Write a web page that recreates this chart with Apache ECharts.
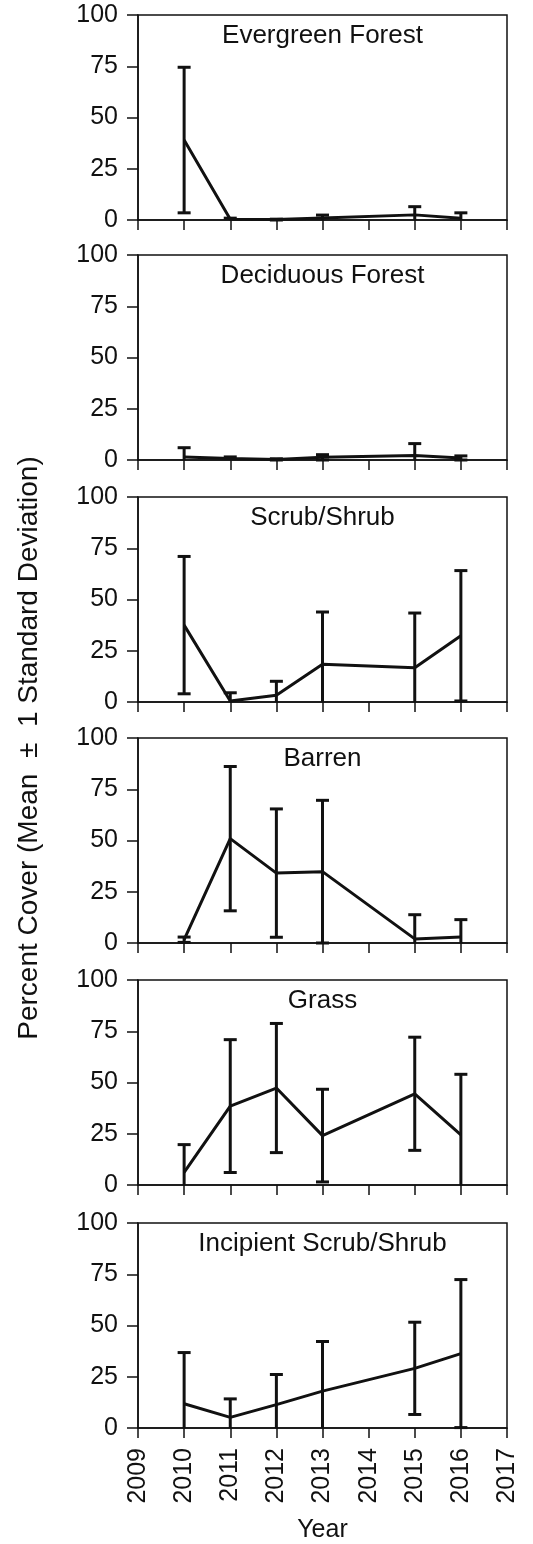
<!DOCTYPE html>
<html>
<head>
<meta charset="utf-8">
<script src="https://cdn.jsdelivr.net/npm/echarts@6/dist/echarts.min.js"></script>
<style>
  html, body { margin: 0; padding: 0; background: #fff; }
  #chart { width: 533px; height: 1544px; }
</style>
</head>
<body>
<div id="chart"></div>
<script>
// survey years (2014 was not sampled)
const years = [2010, 2011, 2012, 2013, 2015, 2016]
const xTicks = [2009, 2017]
const yTicks = [0, 100, 25]

const panelNames = ['Evergreen Forest', 'Deciduous Forest', 'Scrub/Shrub', 'Barren', 'Grass', 'Incipient Scrub/Shrub']

// mean percent cover and 1 standard deviation, per panel
const evergreenMean = [39.0, 0.4, 0.2, 1.0, 2.5, 0.8]
const evergreenSd = [35.5, 0.5, 0.2, 1.4, 4.0, 2.7]
const deciduousMean = [1.5, 0.7, 0.3, 1.3, 2.2, 1.0]
const deciduousSd = [4.5, 0.8, 0.3, 1.3, 5.8, 1.0]
const scrubMean = [37.5, 0.5, 3.3, 18.4, 16.7, 32.3]
const scrubSd = [33.5, 4.0, 6.8, 25.5, 26.7, 31.8]
const barrenMean = [1.6, 50.9, 34.1, 34.8, 2.0, 2.9]
const barrenSd = [1.3, 35.2, 31.3, 34.8, 11.8, 8.5]
const grassMean = [6.2, 38.5, 47.3, 24.1, 44.5, 24.5]
const grassSd = [13.5, 32.4, 31.5, 22.6, 27.6, 29.5]
const incipientMean = [11.8, 5.2, 11.4, 18.0, 29.1, 36.3]
const incipientSd = [25.0, 9.0, 14.7, 24.2, 22.5, 36.1]

const means = [evergreenMean, deciduousMean, scrubMean, barrenMean, grassMean, incipientMean]
const sds = [evergreenSd, deciduousSd, scrubSd, barrenSd, grassSd, incipientSd]

const FONT = '"Liberation Sans", Arial, Helvetica, sans-serif'
const INK = '#111'
const gridTops = [15, 255, 497, 738, 980, 1223]
const gridLeft = 138
const gridWidth = 369
const gridHeight = 205

function renderErrorBar(params, api) {
  const x = api.value(0)
  const top = api.coord([x, api.value(2)])
  const bottom = api.coord([x, api.value(1)])
  const half = 6.5
  const style = { stroke: INK, lineWidth: 3 }
  const children = [
    { type: 'line', shape: { x1: top[0], y1: top[1], x2: bottom[0], y2: bottom[1] }, style: style },
    { type: 'line', shape: { x1: top[0] - half, y1: top[1], x2: top[0] + half, y2: top[1] }, style: style }
  ]
  if (api.value(3)) {
    children.push({ type: 'line', shape: { x1: bottom[0] - half, y1: bottom[1], x2: bottom[0] + half, y2: bottom[1] }, style: style })
  }
  return { type: 'group', children: children }
}

const chart = echarts.init(document.getElementById('chart'), null, { renderer: 'canvas' })

const grid = []
const xAxis = []
const yAxis = []
const title = []
const series = []

panelNames.forEach((name, i) => {
  const last = i === panelNames.length - 1
  grid.push({
    left: gridLeft, top: gridTops[i], width: gridWidth, height: gridHeight,
    show: true, borderColor: INK, borderWidth: 1.5, backgroundColor: 'transparent'
  })
  title.push({
    text: name,
    left: gridLeft + gridWidth / 2,
    top: gridTops[i] + 8,
    textAlign: 'center',
    padding: 0,
    textStyle: { fontFamily: FONT, fontSize: 26, fontWeight: 'normal', color: INK }
  })
  xAxis.push({
    type: 'value', gridIndex: i,
    min: xTicks[0], max: xTicks[1], interval: 1,
    axisLine: { show: true, lineStyle: { color: INK, width: 1.5 } },
    axisTick: { show: true, length: 10, lineStyle: { color: INK, width: 1.5 } },
    splitLine: { show: false },
    axisLabel: {
      show: last, rotate: 90, margin: 20,
      fontFamily: FONT, fontSize: 25, color: INK,
      formatter: v => String(v)
    },
    name: last ? 'Year' : '',
    nameLocation: 'middle',
    nameGap: 90,
    nameTextStyle: { fontFamily: FONT, fontSize: 25, color: INK }
  })
  yAxis.push({
    type: 'value', gridIndex: i,
    min: yTicks[0], max: yTicks[1], interval: yTicks[2],
    axisLine: { show: true, lineStyle: { color: INK, width: 1.5 } },
    axisTick: { show: true, length: 11, lineStyle: { color: INK, width: 1.5 } },
    splitLine: { show: false },
    axisLabel: { margin: 20, fontFamily: FONT, fontSize: 25, color: INK }
  })

  const m = means[i]
  const s = sds[i]
  series.push({
    type: 'custom', xAxisIndex: i, yAxisIndex: i,
    renderItem: renderErrorBar,
    encode: { x: 0, y: [1, 2] },
    data: years.map((yr, k) => [yr, Math.max(0, m[k] - s[k]), m[k] + s[k], m[k] - s[k] >= 0 ? 1 : 0]),
    z: 3
  })
  series.push({
    type: 'line', xAxisIndex: i, yAxisIndex: i,
    data: years.map((yr, k) => [yr, m[k]]),
    symbol: 'none',
    lineStyle: { color: INK, width: 3 },
    z: 4
  })
})

chart.setOption({
  backgroundColor: '#fff',
  animation: false,
  title: title,
  grid: grid,
  xAxis: xAxis,
  yAxis: yAxis,
  series: series,
  graphic: [{
    type: 'text',
    x: 29, y: 748,
    rotation: Math.PI / 2,
    style: {
      text: 'Percent Cover (Mean  ±  1 Standard Deviation)',
      font: '28px ' + FONT,
      fill: INK,
      align: 'center',
      verticalAlign: 'middle'
    }
  }]
})
</script>
</body>
</html>
